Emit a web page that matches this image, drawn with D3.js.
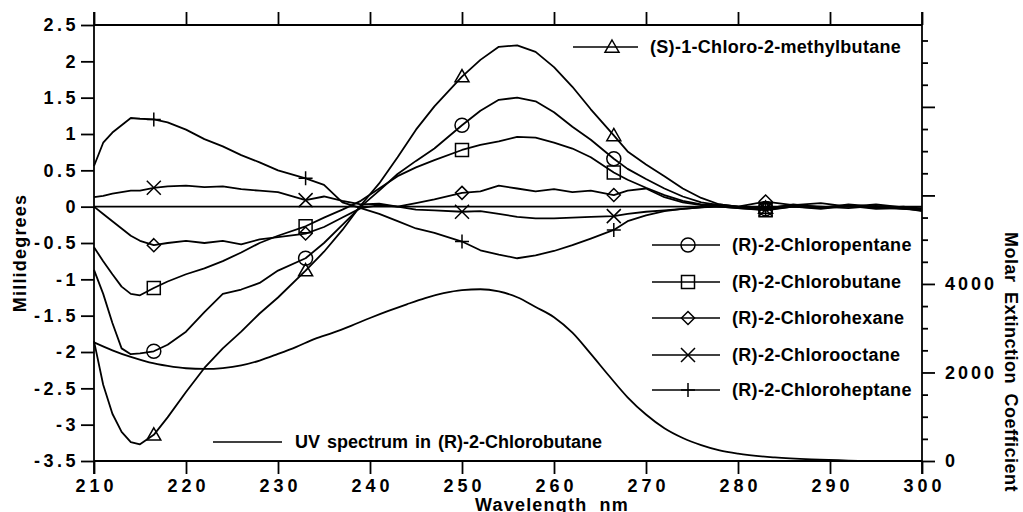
<!DOCTYPE html>
<html>
<head>
<meta charset="utf-8">
<script src="https://cdnjs.cloudflare.com/ajax/libs/d3/7.8.5/d3.min.js"></script>
<style>
  body { margin: 0; background: #fff; }
  text { font-family: "Liberation Sans", Arial, sans-serif; font-weight: bold; fill: #000; }
</style>
</head>
<body>
<svg width="1023" height="512"></svg>
<script>
// wavelengths (nm) for the CD traces
var waveCD = [210, 211, 212, 213, 214, 215, 216.5, 218, 220, 222, 224, 226, 228, 230, 233, 235, 237, 239,
  241, 243, 245, 247, 250, 252, 254, 256, 258, 260, 262, 264, 266.5, 268, 270, 272, 274, 276, 278, 280,
  283, 286, 289, 292, 295, 298, 300];

var methylbutane = [-1.85, -2.45, -2.85, -3.1, -3.24, -3.27, -3.14, -2.9, -2.55, -2.22, -1.95, -1.72, -1.47, -1.25,
  -0.88, -0.62, -0.32, 0.02, 0.32, 0.68, 1.06, 1.38, 1.79, 2.02, 2.2, 2.22, 2.13, 1.92, 1.65, 1.34, 0.98, 0.76,
  0.58, 0.42, 0.25, 0.12, 0.03, 0.0, -0.02, 0.02, 0.0, -0.02, 0.01, -0.03, -0.05];
var pentane = [-0.87, -1.2, -1.6, -1.95, -2.03, -2.02, -1.99, -1.9, -1.72, -1.45, -1.2, -1.14, -1.05, -0.88,
  -0.71, -0.5, -0.25, 0.0, 0.22, 0.45, 0.63, 0.8, 1.12, 1.32, 1.47, 1.5, 1.45, 1.3, 1.1, 0.92, 0.66, 0.52,
  0.38, 0.25, 0.14, 0.06, 0.02, -0.01, -0.03, 0.03, -0.01, 0.02, -0.02, 0.0, -0.04];
var butane = [-0.56, -0.75, -0.93, -1.1, -1.2, -1.22, -1.12, -1.03, -0.93, -0.85, -0.75, -0.63, -0.5, -0.4,
  -0.27, -0.15, -0.04, 0.08, 0.25, 0.42, 0.54, 0.64, 0.78, 0.85, 0.9, 0.96, 0.95, 0.88, 0.8, 0.68, 0.47, 0.37,
  0.26, 0.16, 0.08, 0.03, 0.0, -0.02, -0.05, 0.0, -0.03, 0.01, -0.03, -0.02, -0.06];
var hexane = [0.0, -0.1, -0.2, -0.3, -0.4, -0.47, -0.53, -0.5, -0.47, -0.5, -0.47, -0.52, -0.45, -0.42,
  -0.37, -0.28, -0.15, -0.02, 0.02, 0.0, 0.05, 0.1, 0.19, 0.21, 0.29, 0.25, 0.21, 0.24, 0.2, 0.22, 0.16, 0.22,
  0.25, 0.13, 0.06, 0.02, 0.03, 0.0, 0.07, 0.02, 0.05, 0.0, 0.03, -0.01, -0.02];
var octane = [0.13, 0.15, 0.18, 0.2, 0.22, 0.22, 0.26, 0.28, 0.29, 0.27, 0.28, 0.24, 0.22, 0.2,
  0.09, 0.14, 0.08, 0.03, 0.04, 0.0, -0.04, -0.05, -0.07, -0.06, -0.1, -0.14, -0.16, -0.16, -0.15, -0.14, -0.13,
  -0.1, -0.07, -0.05, -0.03, -0.01, 0.0, -0.02, -0.04, 0.0, -0.02, 0.01, -0.01, -0.03, -0.03];
var heptane = [0.56, 0.88, 1.02, 1.12, 1.22, 1.21, 1.2, 1.16, 1.06, 0.93, 0.83, 0.71, 0.61, 0.5,
  0.39, 0.3, 0.06, -0.02, -0.1, -0.2, -0.3, -0.36, -0.48, -0.6, -0.66, -0.71, -0.67, -0.61, -0.53, -0.44, -0.32,
  -0.2, -0.12, -0.06, -0.03, -0.01, 0.01, 0.0, -0.03, 0.01, -0.02, 0.03, 0.0, -0.02, -0.04];

// UV spectrum (molar extinction coefficient)
var waveUV = [210, 212, 214, 216, 218, 220, 222, 224, 226, 228, 230, 232, 234, 236, 238, 240, 242, 244, 246, 248,
  250, 252, 254, 256, 258, 260, 262, 264, 266, 268, 270, 272, 274, 276, 278, 280, 284, 288, 292, 296, 300];
var uvValues = [2680, 2500, 2350, 2230, 2150, 2095, 2080, 2100, 2160, 2270, 2420, 2580, 2760, 2900, 3060, 3230,
  3390, 3540, 3680, 3790, 3860, 3880, 3830, 3700, 3480, 3250, 2900, 2420, 1920, 1440, 1050, 740, 520, 360, 240,
  165, 80, 35, 10, 0, 0];

var markerWaves = [216.5, 233, 250, 266.5, 283];
var xTicks = [210, 220, 230, 240, 250, 260, 270, 280, 290, 300];
var leftTicks = [2.5, 2, 1.5, 1, 0.5, 0, -0.5, -1, -1.5, -2, -2.5, -3, -3.5];
var rightLabels = [0, 2000, 4000];

var series = [
  {name: "(S)-1-Chloro-2-methylbutane", values: methylbutane, marker: "triangle"},
  {name: "(R)-2-Chloropentane", values: pentane, marker: "circle"},
  {name: "(R)-2-Chlorobutane", values: butane, marker: "square"},
  {name: "(R)-2-Chlorohexane", values: hexane, marker: "diamond"},
  {name: "(R)-2-Chlorooctane", values: octane, marker: "times"},
  {name: "(R)-2-Chloroheptane", values: heptane, marker: "plus"}
];

var svg = d3.select("svg");
var plotL = 94, plotR = 922, plotT = 25, plotB = 461;

var x = d3.scaleLinear().domain([210, 300]).range([plotL, plotR]);
var y = d3.scaleLinear().domain([-3.5, 2.5]).range([plotB, plotT]);
var y2 = d3.scaleLinear().domain([0, 9850]).range([plotB, plotT]);

function markerPath(type, s) {
  var p = d3.path();
  if (type == "circle") {
    p.moveTo(s, 0); p.arc(0, 0, s, 0, 2 * Math.PI);
  } else if (type == "square") {
    p.rect(-s, -s, 2 * s, 2 * s);
  } else if (type == "diamond") {
    p.moveTo(0, -s); p.lineTo(s, 0); p.lineTo(0, s); p.lineTo(-s, 0); p.closePath();
  } else if (type == "triangle") {
    p.moveTo(0, -s); p.lineTo(s, s * 0.75); p.lineTo(-s, s * 0.75); p.closePath();
  } else if (type == "times") {
    p.moveTo(-s, -s); p.lineTo(s, s); p.moveTo(s, -s); p.lineTo(-s, s);
  } else {
    p.moveTo(-s, 0); p.lineTo(s, 0); p.moveTo(0, -s); p.lineTo(0, s);
  }
  return p.toString();
}
var markerSize = {circle: 7, square: 6.5, diamond: 6.5, triangle: 7, times: 7, plus: 7};

// frame
var frame = svg.append("g").attr("stroke", "#000").attr("stroke-width", 1.8);
frame.append("line").attr("x1", plotL).attr("x2", plotL).attr("y1", plotT - 13).attr("y2", plotB + 13);
frame.append("line").attr("x1", plotR).attr("x2", plotR).attr("y1", plotT - 13).attr("y2", plotB + 13);
frame.append("line").attr("x1", plotL).attr("x2", plotR).attr("y1", plotT).attr("y2", plotT);
frame.append("line").attr("x1", plotL).attr("x2", plotR).attr("y1", plotB).attr("y2", plotB);
frame.append("line").attr("x1", plotL).attr("x2", plotR).attr("y1", y(0)).attr("y2", y(0));

function styleAxis(ls) {
  return function(g) {
    g.select(".domain").remove();
    g.selectAll("line").attr("stroke", "#000").attr("stroke-width", 1.8);
    g.selectAll("text").style("font-size", "18px").style("letter-spacing", ls + "px");
  };
}

svg.append("g").attr("transform", "translate(" + plotL + ",0)")
  .call(d3.axisLeft(y).tickValues(leftTicks).tickSize(13).tickPadding(2)
    .tickFormat(function(d) { return d < 0 ? "-" + Math.abs(d) : d; }))
  .call(styleAxis(3.5));

svg.append("g").attr("transform", "translate(0," + plotB + ")")
  .call(d3.axisBottom(x).tickValues(xTicks).tickSize(13).tickPadding(5))
  .call(styleAxis(4))
  .selectAll("text").attr("dx", "2px");

svg.append("g").attr("transform", "translate(0," + plotT + ")")
  .call(d3.axisTop(x).tickValues(xTicks).tickSize(13).tickFormat(""))
  .call(styleAxis(0));

svg.append("g").attr("transform", "translate(" + plotR + ",0)")
  .call(d3.axisRight(y2).tickValues(d3.range(500, 9600, 500).filter(function(d) { return d % 2000 != 0; }))
    .tickSize(6).tickFormat(""))
  .call(styleAxis(0));

svg.append("g").attr("transform", "translate(" + plotR + ",0)")
  .call(d3.axisRight(y2).tickValues([0, 2000, 4000, 6000, 8000]).tickSize(13).tickPadding(10)
    .tickFormat(function(d) { return rightLabels.indexOf(d) >= 0 ? d : ""; }))
  .call(styleAxis(3));

// curves
var line = d3.line()
  .x(function(d) { return x(d[0]); })
  .y(function(d) { return y(d[1]); });

series.forEach(function(s) {
  var pts = waveCD.map(function(w, i) { return [w, s.values[i]]; });
  svg.append("path").datum(pts)
    .attr("d", line)
    .attr("fill", "none").attr("stroke", "#000").attr("stroke-width", 1.8)
    .attr("stroke-linejoin", "round");
  svg.selectAll(null).data(pts.filter(function(d) { return markerWaves.indexOf(d[0]) >= 0; }))
    .enter().append("path")
    .attr("transform", function(d) { return "translate(" + x(d[0]) + "," + y(d[1]) + ")"; })
    .attr("d", markerPath(s.marker, markerSize[s.marker]))
    .attr("fill", "none").attr("stroke", "#000").attr("stroke-width", 1.5);
});

var uvLine = d3.line().curve(d3.curveMonotoneX)
  .x(function(d) { return x(d[0]); })
  .y(function(d) { return y2(d[1]); });
svg.append("path").datum(waveUV.map(function(w, i) { return [w, uvValues[i]]; }))
  .attr("d", uvLine)
  .attr("fill", "none").attr("stroke", "#000").attr("stroke-width", 1.8);

// legends
var legendPos = [
  {x1: 573, x2: 638, mx: 612, y: 47, tx: 650},
  {x1: 652, x2: 720, mx: 688, y: 245, tx: 732},
  {x1: 652, x2: 720, mx: 688, y: 282, tx: 732},
  {x1: 652, x2: 720, mx: 688, y: 318, tx: 732},
  {x1: 652, x2: 720, mx: 688, y: 355, tx: 732},
  {x1: 652, x2: 720, mx: 688, y: 390, tx: 732}
];
series.forEach(function(s, i) {
  var p = legendPos[i];
  var g = svg.append("g");
  g.append("line").attr("x1", p.x1).attr("x2", p.x2).attr("y1", p.y).attr("y2", p.y)
    .attr("stroke", "#000").attr("stroke-width", 1.5);
  g.append("path").attr("transform", "translate(" + p.mx + "," + p.y + ")")
    .attr("d", markerPath(s.marker, markerSize[s.marker]))
    .attr("fill", "none").attr("stroke", "#000").attr("stroke-width", 1.5);
  g.append("text").attr("x", p.tx).attr("y", p.y).attr("dy", "0.36em")
    .style("font-size", "18px").style("letter-spacing", "0.3px").text(s.name);
});
svg.append("line").attr("x1", 213).attr("x2", 282).attr("y1", 442).attr("y2", 442)
  .attr("stroke", "#000").attr("stroke-width", 1.5);
svg.append("text").attr("x", 295).attr("y", 442).attr("dy", "0.36em")
  .style("font-size", "18px").style("word-spacing", "2px")
  .text("UV spectrum in (R)-2-Chlorobutane");

// axis titles
svg.append("text").attr("transform", "translate(26,253) rotate(-90)")
  .attr("text-anchor", "middle").style("font-size", "18px").style("letter-spacing", "1.2px")
  .text("Millidegrees");
svg.append("text").attr("x", 475).attr("y", 511)
  .style("font-size", "18px").style("letter-spacing", "1.2px").style("word-spacing", "6px")
  .text("Wavelength nm");
svg.append("text").attr("transform", "translate(1005,232) rotate(90)")
  .style("font-size", "18px").style("letter-spacing", "0.5px").style("word-spacing", "4px")
  .text("Molar Extinction Coefficient");
</script>
</body>
</html>
